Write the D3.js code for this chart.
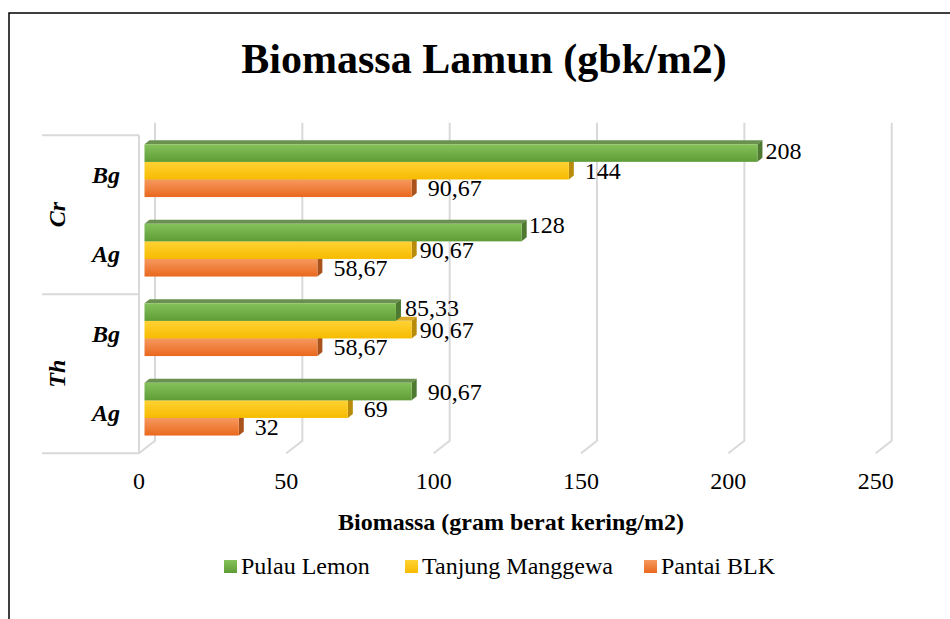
<!DOCTYPE html>
<html>
<head>
<meta charset="utf-8">
<script src="https://cdn.jsdelivr.net/npm/d3@7"></script>
<style>
  body { margin: 0; background: #fff; }
  svg text { font-family: "Liberation Serif", "Times New Roman", serif; fill: #000; }
</style>
</head>
<body>
<svg id="chart" width="950" height="619"></svg>
<script>
// data
const groups = ['Cr', 'Cr', 'Th', 'Th'];
const species = ['Bg', 'Ag', 'Bg', 'Ag'];
const seriesNames = ['Pulau Lemon', 'Tanjung Manggewa', 'Pantai BLK'];
const pulauLemon = [208, 128, 85.33, 90.67];
const tanjungManggewa = [144, 90.67, 90.67, 69];
const pantaiBLK = [90.67, 58.67, 58.67, 32];
const xTicks = [0, 50, 100, 150, 200, 250];

const seriesValues = [pulauLemon, tanjungManggewa, pantaiBLK];

// label nudges (category index, series index) -> [dx, dy]
const labelNudge = {
  '0-0': [8, -2],
  '1-0': [7, -8],
  '1-1': [8, 0],
  '2-0': [9, -4],
  '2-1': [8, 0]
};

const svg = d3.select('#chart');

const colors = [
  { light: '#86c25a', dark: '#5f9c37', top: '#6a9150', side: '#4d7a30' },
  { light: '#ffd234', dark: '#f7bb00', top: '#d7a726', side: '#b88c0a' },
  { light: '#f6995f', dark: '#e9681d', top: '#c9672a', side: '#a9521b' }
];

const defs = svg.append('defs');
colors.forEach((c, i) => {
  const g = defs.append('linearGradient')
    .attr('id', 'grad' + i)
    .attr('x1', 0).attr('y1', 0).attr('x2', 0).attr('y2', 1);
  g.append('stop').attr('offset', '0%').attr('stop-color', c.light);
  g.append('stop').attr('offset', '100%').attr('stop-color', c.dark);
});

// outer border
svg.append('path')
  .attr('d', 'M9,619 L9,13 L950,13')
  .attr('fill', 'none')
  .attr('stroke', '#000')
  .attr('stroke-width', 1.5);

// title
svg.append('text')
  .attr('x', 484)
  .attr('y', 73)
  .attr('text-anchor', 'middle')
  .style('font-size', '42px')
  .style('font-weight', 'bold')
  .text('Biomassa Lamun (gbk/m2)');

// geometry: back wall, front (floor edge), bar plane
const backTop = 122.7, backBottom = 440.7;
const front = { dx: -16, dy: 12.5 };
const barPlane = { dx: -10.5, dy: 8.2 };
const depth = { dx: 5, dy: -4 };

const x = d3.scaleLinear().domain([0, 250]).range([155, 891.7]);
const idx = d3.range(groups.length);
const y = d3.scaleBand().domain(idx).range([backTop, backBottom])
  .paddingInner(0.336).paddingOuter(0.168);
const ySeries = d3.scaleBand().domain(d3.range(seriesNames.length))
  .range([0, y.bandwidth()]);

// gridlines on back wall + floor lines
const grid = svg.append('g');
xTicks.forEach(t => {
  grid.append('path')
    .attr('d', `M${x(t)},${backTop} L${x(t)},${backBottom} L${x(t) + front.dx},${backBottom + front.dy}`)
    .attr('fill', 'none')
    .attr('stroke', '#d9d9d9')
    .attr('stroke-width', 2);
});

// left wall front edge
const fx0 = x(0) + front.dx;
grid.append('line')
  .attr('x1', fx0).attr('x2', fx0)
  .attr('y1', backTop + front.dy).attr('y2', backBottom + front.dy)
  .attr('stroke', '#d9d9d9').attr('stroke-width', 2);

// category axis separators
const yFront = d3.scaleBand().domain(idx)
  .range([backTop + front.dy, backBottom + front.dy]);
const groupNames = Array.from(new Set(groups));
const sepYs = [backTop + front.dy];
groupNames.forEach(gn => {
  const last = idx.filter(i => groups[i] === gn).pop();
  sepYs.push(yFront(last) + yFront.bandwidth());
});
sepYs.forEach(sy => {
  grid.append('line')
    .attr('x1', 42).attr('x2', fx0)
    .attr('y1', sy).attr('y2', sy)
    .attr('stroke', '#d9d9d9').attr('stroke-width', 2);
});

// species labels
svg.append('g').selectAll('text')
  .data(idx)
  .join('text')
  .attr('x', 120)
  .attr('y', i => yFront(i) + yFront.bandwidth() / 2 + 8)
  .attr('text-anchor', 'end')
  .style('font-size', '24px')
  .style('font-weight', 'bold')
  .style('font-style', 'italic')
  .text(i => species[i]);

// group labels (rotated)
groupNames.forEach(gn => {
  const members = idx.filter(i => groups[i] === gn);
  const cy = (yFront(members[0]) + yFront(members[members.length - 1]) + yFront.bandwidth()) / 2;
  svg.append('text')
    .attr('transform', `translate(65,${cy}) rotate(-90)`)
    .attr('text-anchor', 'middle')
    .style('font-size', '24px')
    .style('font-weight', 'bold')
    .style('font-style', 'italic')
    .text(gn);
});

// bars, drawn bottom series first so upper bars cover top faces
const bars = svg.append('g');
const fmt = v => Number.isInteger(v) ? String(v) : v.toFixed(2).replace('.', ',');
const barX0 = x(0) + barPlane.dx;

idx.forEach(ci => {
  for (let si = seriesNames.length - 1; si >= 0; si--) {
    const v = seriesValues[si][ci];
    const x1 = x(v) + barPlane.dx;
    const y0 = y(ci) + ySeries(si) + barPlane.dy;
    const y1 = y0 + ySeries.bandwidth();
    const c = colors[si];
    const g = bars.append('g');
    // top face
    g.append('path')
      .attr('d', `M${barX0},${y0} L${barX0 + depth.dx},${y0 + depth.dy} L${x1 + depth.dx},${y0 + depth.dy} L${x1},${y0} Z`)
      .attr('fill', c.top);
    // side face
    g.append('path')
      .attr('d', `M${x1},${y0} L${x1 + depth.dx},${y0 + depth.dy} L${x1 + depth.dx},${y1 + depth.dy} L${x1},${y1} Z`)
      .attr('fill', c.side);
    // front face
    g.append('rect')
      .attr('x', barX0).attr('y', y0)
      .attr('width', x1 - barX0).attr('height', y1 - y0)
      .attr('fill', `url(#grad${si})`);
  }
});

// data labels
const labels = svg.append('g');
idx.forEach(ci => {
  seriesValues.forEach((vals, si) => {
    const v = vals[ci];
    const nudge = labelNudge[ci + '-' + si] || [16, 0];
    const cy = y(ci) + ySeries(si) + barPlane.dy + ySeries.bandwidth() / 2;
    labels.append('text')
      .attr('x', x(v) + barPlane.dx + nudge[0])
      .attr('y', cy + 8 + nudge[1])
      .style('font-size', '24px')
      .text(fmt(v));
  });
});

// x tick labels
svg.append('g').selectAll('text')
  .data(xTicks)
  .join('text')
  .attr('x', d => x(d) + front.dx)
  .attr('y', 489)
  .attr('text-anchor', 'middle')
  .style('font-size', '24px')
  .text(d => d);

// axis title
svg.append('text')
  .attr('x', 511)
  .attr('y', 530)
  .attr('text-anchor', 'middle')
  .style('font-size', '24px')
  .style('font-weight', 'bold')
  .text('Biomassa (gram berat kering/m2)');

// legend
const legendX = [224, 405, 644];
const legend = svg.append('g');
seriesNames.forEach((name, i) => {
  legend.append('rect')
    .attr('x', legendX[i]).attr('y', 560)
    .attr('width', 13).attr('height', 13)
    .attr('fill', `url(#grad${i})`);
  legend.append('text')
    .attr('x', legendX[i] + 17)
    .attr('y', 574)
    .style('font-size', '24px')
    .text(name);
});
</script>
</body>
</html>
